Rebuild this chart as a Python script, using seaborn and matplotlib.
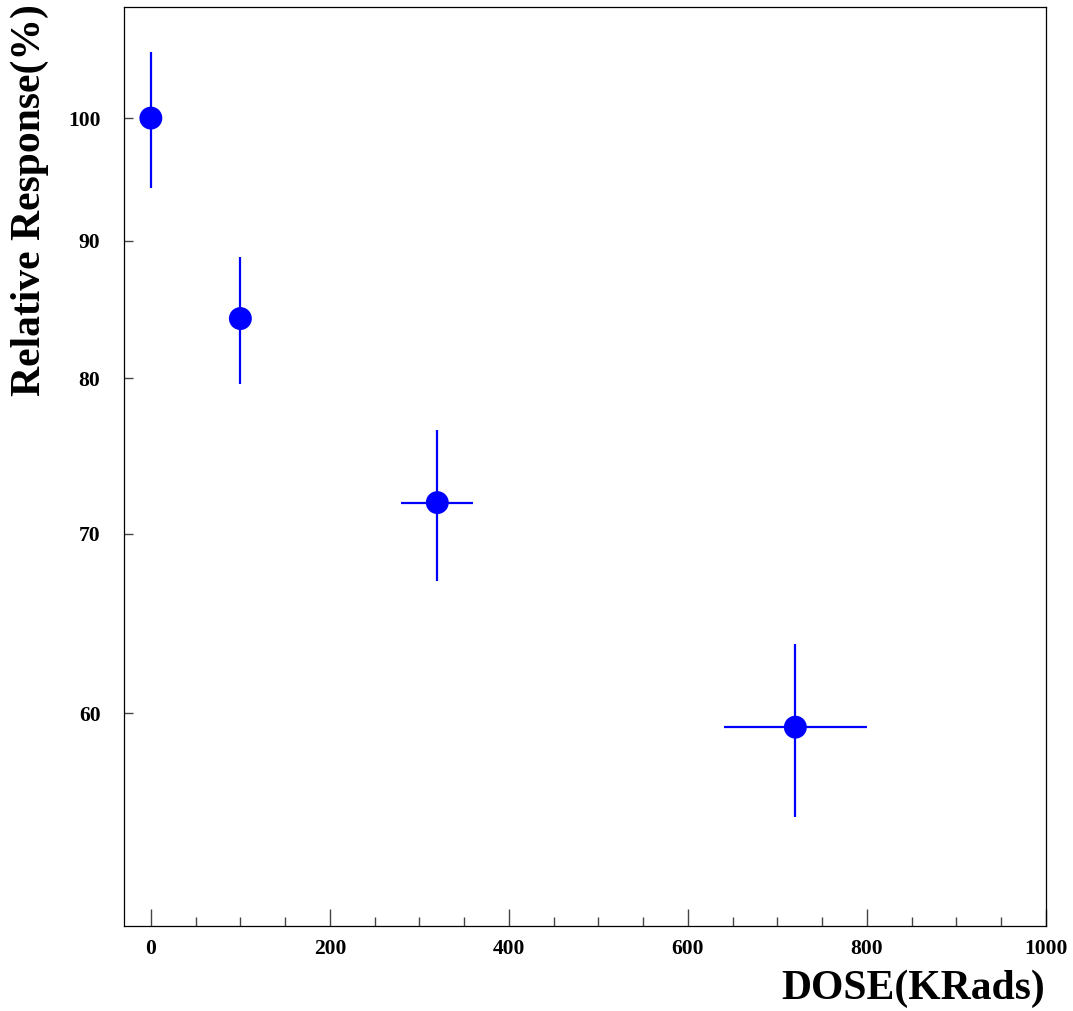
import matplotlib
matplotlib.use("Agg")
import matplotlib.pyplot as plt
import matplotlib.ticker as mticker
import seaborn as sns
import pandas as pd

# Data
dose = [0, 100, 320, 720]
response = [100.0, 84.2, 71.9, 59.3]
dose_err = [0, 0, 40, 80]
resp_err = [5.8, 4.6, 4.65, 4.4]
x_ticks = [0, 200, 400, 600, 800, 1000]
y_ticks = [60, 70, 80, 90, 100]

sns.set_theme(style="ticks")
plt.rcParams['font.family'] = ['Liberation Serif', 'DejaVu Serif']
plt.rcParams['font.weight'] = 'bold'
plt.rcParams['text.color'] = 'black'
plt.rcParams['xtick.labelcolor'] = 'black'
plt.rcParams['ytick.labelcolor'] = 'black'

fig = plt.figure(figsize=(10.73, 10.11), dpi=100)
ax = fig.add_axes([124/1073, 1 - 926/1011, 922/1073, 919/1011])

df = pd.DataFrame({"dose": dose, "response": response})

ax.errorbar(dose, response, xerr=dose_err, yerr=resp_err, fmt='none',
            ecolor='#0000ff', elinewidth=1.6, capsize=0, zorder=2)
sns.scatterplot(data=df, x="dose", y="response", ax=ax, color='#0000ff',
                s=16.5**2, edgecolor='none', zorder=3, legend=False)

ax.set_yscale('log')
ax.set_xlim(-30, 1000)
ax.set_ylim(50, 110)
ax.yaxis.set_major_locator(mticker.FixedLocator(y_ticks))
ax.yaxis.set_major_formatter(mticker.FixedFormatter([str(v) for v in y_ticks]))
ax.yaxis.set_minor_locator(mticker.NullLocator())
ax.xaxis.set_major_locator(mticker.FixedLocator(x_ticks))
ax.xaxis.set_major_formatter(mticker.FixedFormatter([str(v) for v in x_ticks]))
ax.xaxis.set_minor_locator(mticker.MultipleLocator(50))

ax.tick_params(axis='x', which='major', direction='in', length=12.5, width=1.0,
               color='#444444', pad=9, labelsize=15.5, labelcolor='black')
ax.tick_params(axis='x', which='minor', direction='in', length=6.5, width=1.0,
               color='#444444')
ax.tick_params(axis='y', which='major', direction='in', length=6.5, width=1.0,
               color='#444444', pad=17, labelsize=15.5, labelcolor='black')
for lab in ax.get_xticklabels() + ax.get_yticklabels():
    lab.set_fontweight('bold')

for sp in ax.spines.values():
    sp.set_visible(True)
    sp.set_linewidth(0.9)
    sp.set_color('black')

ax.set_xlabel("")
ax.set_ylabel("")

fig.text(30/1073, 1 - 4/1011, "Relative Response(%)", rotation=90,
         ha='center', va='top', fontsize=30, fontweight='bold', color='black')
fig.text(1045/1073, 1 - 970/1011, "DOSE(KRads)", ha='right', va='top',
         fontsize=30, fontweight='bold', color='black')

fig.savefig("out.png", dpi=100)
